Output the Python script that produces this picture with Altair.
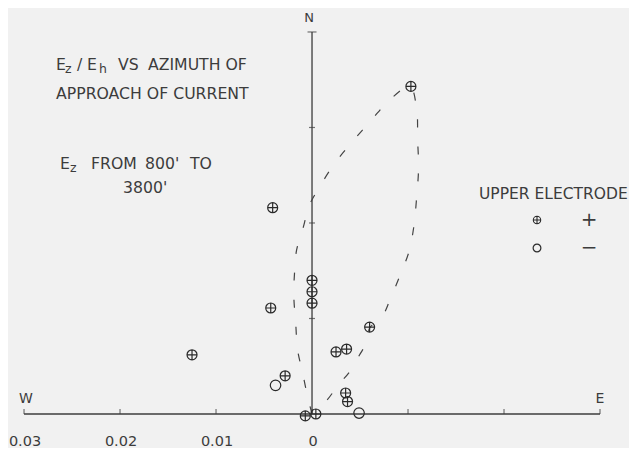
import altair as alt
import pandas as pd

# ---- data ----
# upper electrode positive (circle with cross)
plus_x = [0.0103, -0.0041, 0.0, 0.0, 0.0, -0.0043, 0.0060, 0.0025, 0.0036,
          -0.0028, 0.0035, 0.0037, -0.0007, 0.0004, -0.0125]
plus_y = [0.0343, 0.0216, 0.0140, 0.0128, 0.0116, 0.0111, 0.0091, 0.0065,
          0.0068, 0.0040, 0.0022, 0.0013, -0.0002, 0.0000, 0.0062]
# upper electrode negative (open circle)
minus_x = [-0.0038, 0.0049]
minus_y = [0.0030, 0.0001]

# dashed envelope, traced in drawing order
env_x = [0.0, -0.0005, -0.0010, -0.0015, -0.0017, -0.0019, -0.0018, -0.0016,
         -0.0009, -0.0003, 0.0008, 0.0024, 0.0042, 0.0062, 0.0081, 0.0102,
         0.0109, 0.0110, 0.0111, 0.0109, 0.0106, 0.0101, 0.0092, 0.0081,
         0.0073, 0.0060, 0.0058, 0.0049, 0.0039, 0.0027, 0.0016, 0.0002]
env_y = [0.0, 0.0020, 0.0044, 0.0067, 0.0095, 0.0125, 0.0151, 0.0172,
         0.0196, 0.0218, 0.0238, 0.0263, 0.0285, 0.0308, 0.0329, 0.0343,
         0.0319, 0.0287, 0.0258, 0.0227, 0.0196, 0.0170, 0.0146, 0.0119,
         0.0102, 0.0090, 0.0077, 0.0061, 0.0044, 0.0030, 0.0015, 0.0001]

x_ticks = [-0.03, -0.02, -0.01, 0.0, 0.01, 0.02, 0.03]
x_tick_labels = ["0.03", "0.02", "0.01", "0", "", "", ""]
y_ticks = [0.01, 0.02, 0.03]
y_top = 0.04

ink = "#3c3c3c"
font = "DejaVu Sans"

XS = alt.Scale(domain=[-0.03167, 0.03302], nice=False, zero=False)
YS = alt.Scale(domain=[-0.00356, 0.04251], nice=False, zero=False)


def X(f="x"):
    return alt.X(f + ":Q", scale=XS, axis=None)


def Y(f="y"):
    return alt.Y(f + ":Q", scale=YS, axis=None)


one = pd.DataFrame({"a": [0]})


def txt(s, x, y, size=15.7, align="left"):
    return alt.Chart(one).mark_text(
        text=s, font=font, fontSize=size, color=ink, align=align,
        baseline="alphabetic"
    ).encode(x=alt.value(x), y=alt.value(y))


plus_df = pd.DataFrame({"x": plus_x, "y": plus_y})
minus_df = pd.DataFrame({"x": minus_x, "y": minus_y})
env_df = pd.DataFrame({"x": env_x, "y": env_y, "o": list(range(len(env_x)))})

h_axis = pd.DataFrame({"x": [x_ticks[0]], "x2": [x_ticks[-1]], "y": [0.0]})
v_axis = pd.DataFrame({"x": [0.0], "y": [0.0], "y2": [y_top]})
xt_df = pd.DataFrame({"x": x_ticks, "y": [0.0] * len(x_ticks), "lab": x_tick_labels})
yt_df = pd.DataFrame({"x": [0.0] * len(y_ticks), "y": y_ticks})
top_df = pd.DataFrame({"x": [0.0], "y": [y_top]})

circ_cross = "M-1,0A1,1,0,1,1,1,0A1,1,0,1,1,-1,0ZM-1,0L1,0M0,-1L0,1"

layers = [
    alt.Chart(h_axis).mark_rule(color=ink, strokeWidth=1.3).encode(x=X(), x2="x2", y=Y()),
    alt.Chart(v_axis).mark_rule(color=ink, strokeWidth=1.3).encode(x=X(), y=Y(), y2="y2"),
    alt.Chart(xt_df).mark_tick(orient="vertical", size=5, thickness=1.2, color=ink,
                               yOffset=-2.5).encode(x=X(), y=Y()),
    alt.Chart(yt_df).mark_tick(orient="horizontal", size=6, thickness=1.2,
                               color=ink).encode(x=X(), y=Y()),
    alt.Chart(top_df).mark_tick(orient="horizontal", size=9, thickness=1.2,
                                color=ink).encode(x=X(), y=Y()),
    alt.Chart(xt_df).transform_filter("datum.lab != ''").mark_text(
        font=font, fontSize=14.5, color=ink, dy=28, dx=1, baseline="middle"
    ).encode(x=X(), y=Y(), text="lab:N"),
    alt.Chart(env_df).mark_line(
        color="#444444", strokeWidth=1.2, strokeDash=[8, 19],
        interpolate="catmull-rom"
    ).encode(x=X(), y=Y(), order="o:Q"),
    alt.Chart(plus_df).mark_point(
        shape=circ_cross, size=100, filled=False, color="#2a2a2a",
        strokeWidth=1.2, opacity=1
    ).encode(x=X(), y=Y()),
    alt.Chart(minus_df).mark_point(
        shape="circle", size=110, filled=False, color="#2a2a2a",
        strokeWidth=1.2, opacity=1
    ).encode(x=X(), y=Y()),
    # compass letters
    txt("N", 301, 14, 13, "center"),
    txt("W", 18, 395, 14, "center"),
    txt("E", 592, 395, 14, "center"),
    # title block
    txt("E", 48, 62),
    txt("z", 57, 65, 12.5),
    txt("/", 69, 62),
    txt("E", 79, 62),
    txt("h", 91, 65, 12.5),
    txt("VS", 110, 62),
    txt("AZIMUTH OF", 140, 62),
    txt("APPROACH OF CURRENT", 48, 91),
    txt("E", 52, 161),
    txt("z", 62, 164, 12.5),
    txt("FROM", 83, 161),
    txt("800'", 137, 161),
    txt("TO", 182, 161),
    txt("3800'", 115, 185),
    # legend
    txt("UPPER ELECTRODE", 471, 191, 15.5),
    alt.Chart(one).mark_point(shape=circ_cross, size=55, filled=False, color="#2a2a2a",
                              strokeWidth=1.1, opacity=1).encode(x=alt.value(529), y=alt.value(212)),
    alt.Chart(one).mark_point(shape="circle", size=60, filled=False, color="#2a2a2a",
                              strokeWidth=1.2, opacity=1).encode(x=alt.value(529), y=alt.value(240)),
    txt("+", 581, 218, 20, "center"),
    txt("\u2212", 581, 246, 20, "center"),
]

chart = alt.layer(*layers).properties(
    width=621, height=440, padding=0, autosize=alt.AutoSizeParams(type="none"),
    background="#f1f1f1"
).configure_view(stroke=None)

chart.save("out.html", embed_options={"renderer": "svg", "actions": False})
